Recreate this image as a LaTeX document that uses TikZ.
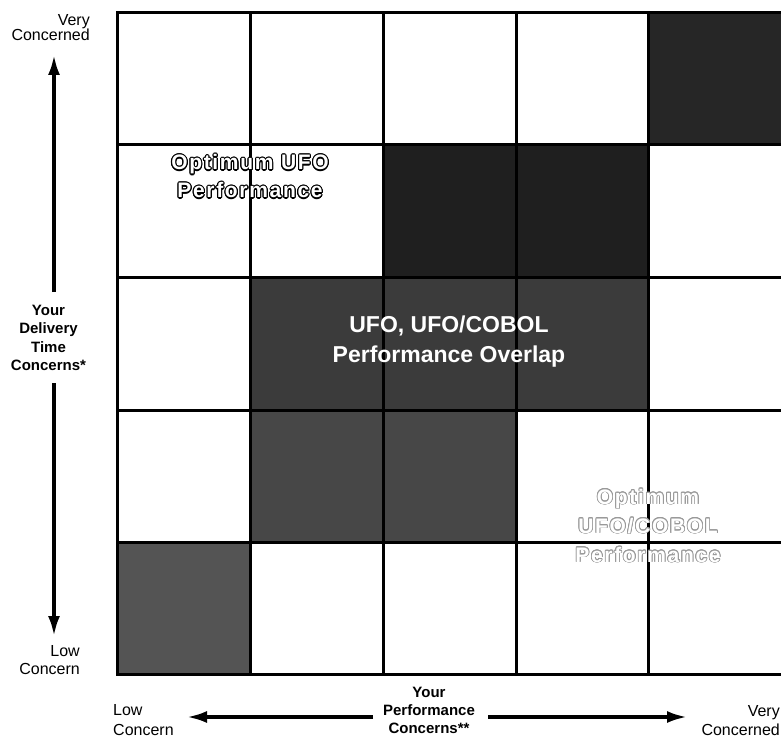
\documentclass[tikz,border=0pt]{standalone}
\usepackage{fontspec}
\setmainfont{Liberation Sans}
\newfontfamily\outfont[LetterSpace=8]{Liberation Sans}
\usepackage{contour}
\contourlength{1.1pt}
\usetikzlibrary{arrows.meta}
\begin{document}
\begin{tikzpicture}[x=1pt,y=-1pt,
  gridline/.style={line width=3pt,black,line cap=rect},
  lbl/.style={inner sep=0pt,font=\fontsize{16}{15}\selectfont},
  blbl/.style={inner sep=0pt,align=center,font=\fontsize{15}{18.3}\selectfont\bfseries},
  axisarrow/.style={line width=3.4pt,black,-{Latex[length=20pt,width=12pt]}},
  outtxt/.style={inner sep=0pt,align=center,text=white,font=\fontsize{21}{28}\selectfont\outfont\bfseries},
  ctrtxt/.style={inner sep=0pt,align=center,text=white,font=\fontsize{23}{30}\selectfont\bfseries}
]
\useasboundingbox (0,0) rectangle (781,738);
\fill[white] (0,0) rectangle (781,738);
% shaded cells
\fill[black!85] (648,13) rectangle (781,145);
\fill[black!88] (383,145) rectangle (648,277);
\fill[black!77] (250,277) rectangle (648,410);
\fill[black!72] (250,410) rectangle (516,542);
\fill[black!67] (117,542) rectangle (250,674);
% grid lines
\foreach \yy in {13,145,277,410,542,674} \draw[gridline] (117,\yy) -- (784,\yy);
\foreach \xx in {117,250,383,516,648} \draw[gridline] (\xx,13) -- (\xx,674);
% texts inside the grid
\node[outtxt] (optufo) at (250,177) {\contour{black}{Optimum UFO}\\\contour{black}{Performance}};
\node[ctrtxt] (overlap) at (449,342) {UFO, UFO/COBOL\\Performance Overlap};
\node[outtxt,font=\fontsize{21}{29}\selectfont\outfont\bfseries] (optcob) at (648,526) {\contourlength{0.8pt}\contour{black!40}{Optimum}\\\contourlength{0.8pt}\contour{black!40}{UFO/COBOL}\\\contourlength{0.8pt}\contour{black!40}{Performance}};
% vertical axis labels
\node[lbl,align=right,anchor=east] (vtop) at (90,28) {Very\\Concerned};
\node[blbl] (dtime) at (48.5,338) {Your\\Delivery\\Time\\Concerns*};
\node[lbl,align=right,anchor=east,font=\fontsize{16}{18}\selectfont] (vlow) at (80,660) {Low\\Concern};
% horizontal axis labels
\node[lbl,align=left,anchor=west,font=\fontsize{16}{20}\selectfont] (hlow) at (113,720) {Low\\Concern};
\node[blbl,font=\fontsize{15}{18}\selectfont\bfseries] (perf) at (429,710) {Your\\Performance\\Concerns**};
\node[lbl,align=right,anchor=east,font=\fontsize{16}{19}\selectfont] (hvery) at (780,721) {Very\\Concerned};
% arrows
\coordinate (vt1) at (54,292); \coordinate (vt2) at (54,55);
\coordinate (vb1) at (54,383); \coordinate (vb2) at (54,636);
\coordinate (hl1) at (373,717); \coordinate (hl2) at (187,717);
\coordinate (hr1) at (488,717); \coordinate (hr2) at (687,717);
\draw[axisarrow] (vt1) -- (vt2);
\draw[axisarrow] (vb1) -- (vb2);
\draw[axisarrow] (hl1) -- (hl2);
\draw[axisarrow] (hr1) -- (hr2);
\end{tikzpicture}
\end{document}
